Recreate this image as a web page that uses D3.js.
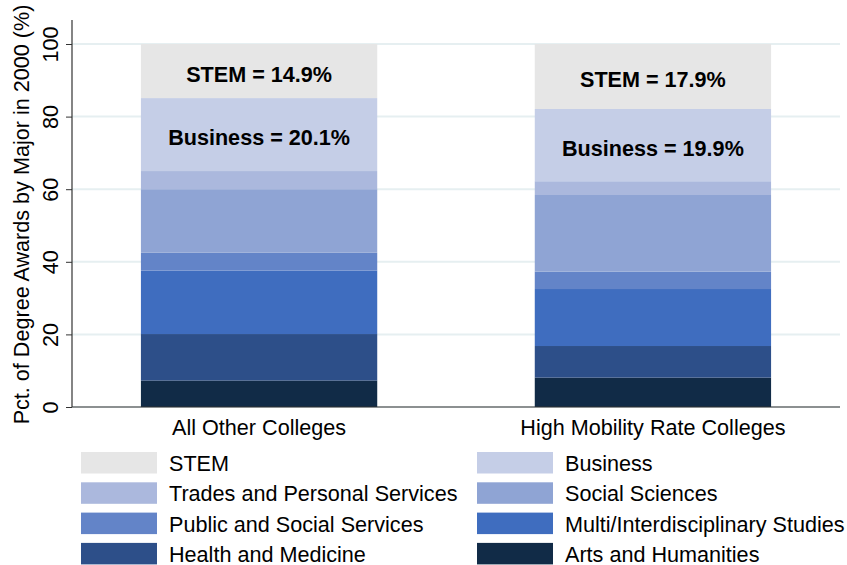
<html>
<head>
<style>
  body { margin: 0; background: #fff; }
  text { font-family: "Liberation Sans", Arial, sans-serif; }
</style>
</head>
<body>
<svg id="chart" width="847" height="565"></svg>
<script src="https://cdn.jsdelivr.net/npm/d3@7"></script>
<script>
// groups on the x axis
let groups = ["All Other Colleges", "High Mobility Rate Colleges"]

// majors, bottom of the stack first
let majors = ["Arts and Humanities", "Health and Medicine", "Multi/Interdisciplinary Studies",
  "Public and Social Services", "Social Sciences", "Trades and Personal Services", "Business", "STEM"]

let majorColors = ["#112b47", "#2d4f89", "#3f6dbf", "#6384c8", "#8fa4d4", "#abb8dd", "#c5cee7", "#e6e6e6"]

// percent of degree awards per major, same order as majors
let allOther = [7.3, 12.8, 17.5, 4.9, 17.5, 5.0, 20.1, 14.9]
let highMobility = [8.1, 8.7, 15.7, 4.8, 21.1, 3.8, 19.9, 17.9]

let yTicks = [0, 20, 40, 60, 80, 100]

// legend order (two columns, row by row)
let legendOrder = ["STEM", "Business", "Trades and Personal Services", "Social Sciences",
  "Public and Social Services", "Multi/Interdisciplinary Studies", "Health and Medicine", "Arts and Humanities"]

// segments that get a bold label inside the bar
let labelled = ["STEM", "Business"]

let svg = d3.select("#chart")
let plotLeft = 72, plotRight = 840, plotTop = 44, plotBottom = 407
let fontSize = 21.6

let rows = groups.map((g, i) => {
  let r = { group: g }
  let vals = i == 0 ? allOther : highMobility
  majors.forEach((m, j) => r[m] = vals[j])
  return r
})

let x = d3.scaleBand().domain(groups).range([plotLeft, plotRight]).paddingInner(0.40).paddingOuter(0.175)
let y = d3.scaleLinear().domain([0, 100]).range([plotBottom, plotTop])
let color = d3.scaleOrdinal().domain(majors).range(majorColors)

// gridlines
svg.append("g").selectAll("line")
  .data(yTicks)
  .enter().append("line")
  .attr("x1", plotLeft).attr("x2", plotRight)
  .attr("y1", d => y(d)).attr("y2", d => y(d))
  .attr("stroke", "#e6eff1").attr("stroke-width", 2)

let stack = d3.stack().keys(majors)(rows)

let layers = svg.append("g").selectAll("g")
  .data(stack)
  .enter().append("g")
  .attr("fill", d => color(d.key))

layers.selectAll("rect")
  .data(d => d)
  .enter().append("rect")
  .attr("x", d => x(d.data.group))
  .attr("width", x.bandwidth())
  .attr("y", d => y(d[1]))
  .attr("height", d => y(d[0]) - y(d[1]))

// in-bar labels
stack.filter(s => labelled.includes(s.key)).forEach(s => {
  svg.append("g").selectAll("text")
    .data(s)
    .enter().append("text")
    .attr("x", d => x(d.data.group) + x.bandwidth() / 2)
    .attr("y", d => y((d[0] + d[1]) / 2) + 3)
    .attr("text-anchor", "middle")
    .attr("dominant-baseline", "central")
    .attr("font-size", fontSize)
    .attr("font-weight", "bold")
    .attr("fill", "#000")
    .text(d => s.key + " = " + d3.format(".1f")(d[1] - d[0]) + "%")
})

// y axis
let yAxis = svg.append("g")
  .attr("transform", "translate(" + plotLeft + ",0)")
  .call(d3.axisLeft(y).tickValues(yTicks).tickSize(6).tickSizeOuter(0).tickPadding(4))
yAxis.select(".domain").remove()
yAxis.selectAll(".tick line").attr("stroke", "#333")
yAxis.selectAll(".tick text")
  .attr("font-size", fontSize)
  .attr("fill", "#000")
  .attr("font-family", "Liberation Sans, Arial, sans-serif")
  .attr("transform", "rotate(-90)")
  .attr("x", 0).attr("dx", 0)
  .attr("y", -22)
  .attr("dy", "0")
  .attr("text-anchor", "middle")
  .attr("dominant-baseline", "central")

svg.append("line")
  .attr("x1", plotLeft).attr("x2", plotLeft)
  .attr("y1", plotBottom).attr("y2", plotTop - 24)
  .attr("stroke", "#333").attr("stroke-width", 1.2)

// x axis
let xAxis = svg.append("g")
  .attr("transform", "translate(0," + plotBottom + ")")
  .call(d3.axisBottom(x).tickSize(0).tickSizeOuter(0).tickPadding(13))
xAxis.select(".domain").remove()
xAxis.selectAll(".tick text")
  .attr("font-size", fontSize)
  .attr("fill", "#000")
  .attr("font-family", "Liberation Sans, Arial, sans-serif")

svg.append("line")
  .attr("x1", plotLeft).attr("x2", plotRight)
  .attr("y1", plotBottom).attr("y2", plotBottom)
  .attr("stroke", "#333").attr("stroke-width", 1.2)

// y title
svg.append("text")
  .attr("transform", "translate(21," + ((plotTop + plotBottom) / 2 - 11) + ") rotate(-90)")
  .attr("text-anchor", "middle")
  .attr("dominant-baseline", "central")
  .attr("font-size", fontSize)
  .text("Pct. of Degree Awards by Major in 2000 (%)")

// legend
let legend = svg.append("g").selectAll("g")
  .data(legendOrder)
  .enter().append("g")
  .attr("transform", (d, i) => "translate(" + (i % 2 == 0 ? 81 : 477) + "," + (452 + Math.floor(i / 2) * 30.3) + ")")

legend.append("rect")
  .attr("width", 76).attr("height", 21.5)
  .attr("fill", d => color(d))

legend.append("text")
  .attr("x", 88).attr("y", 11.5)
  .attr("dominant-baseline", "central")
  .attr("font-size", fontSize)
  .text(d => d)
</script>
</body>
</html>
